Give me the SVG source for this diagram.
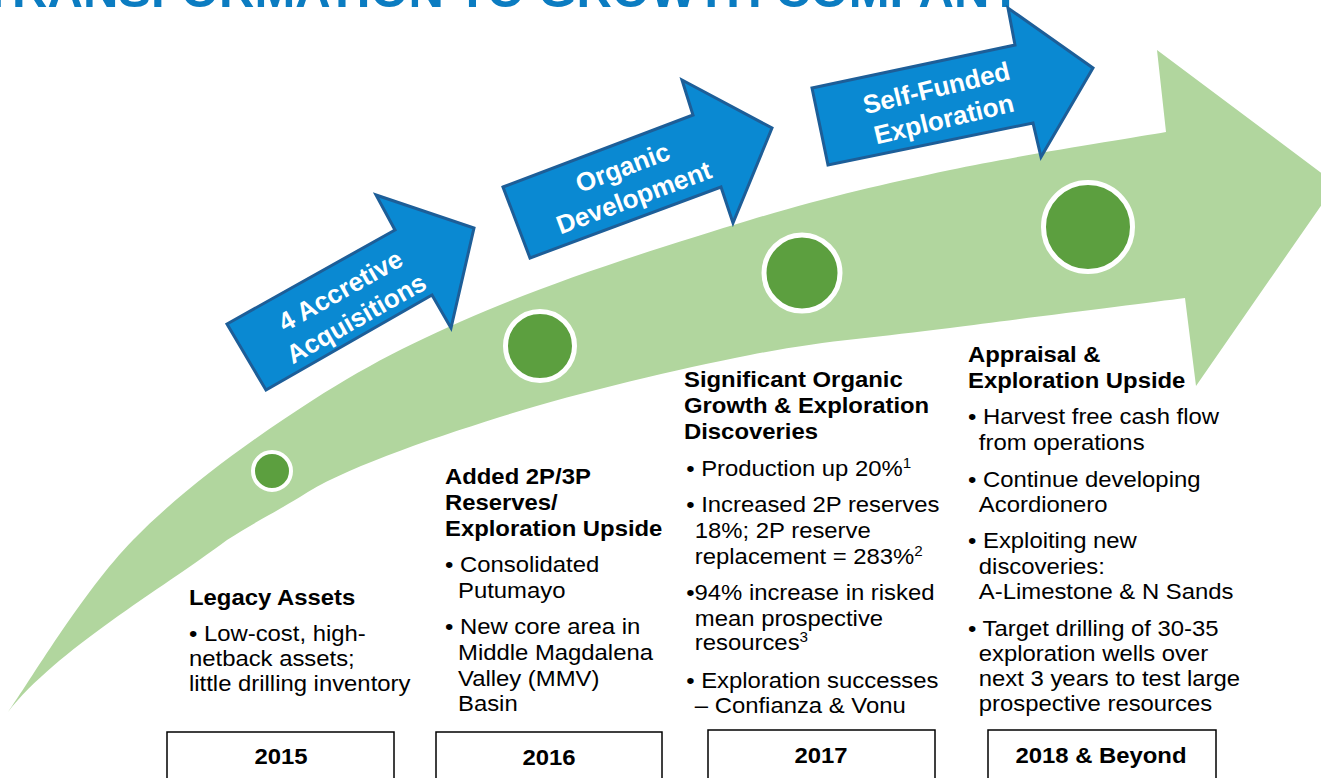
<svg xmlns="http://www.w3.org/2000/svg" width="1321" height="778" viewBox="0 0 1321 778">
<style>
.t{font-family:"Liberation Sans",Arial,sans-serif;font-size:22px;fill:#000}
.b{font-weight:bold}
.at{font-family:"Liberation Sans",Arial,sans-serif;font-size:26px;font-weight:bold;fill:#fff;text-anchor:middle}
.blue{fill:#0a89d2;stroke:#1d5e98;stroke-width:3;stroke-linejoin:miter}
.dot{fill:#5c9f3f;stroke:#fff}
.yr{fill:#fff;stroke:#000;stroke-width:1.5}
.sup{font-size:14px}
</style>
<rect width="1321" height="778" fill="#fff"/>
<text x="1022" y="7" text-anchor="end" font-family="Liberation Sans,Arial,sans-serif" font-weight="bold" font-size="49" fill="#0b7cc1">TRANSFORMATION TO GROWTH COMPANY</text>
<g id="connectors">
<path id="growth-arrow" fill="#b1d69e" d="M8,712 C28.8,683.3 82.2,592 133,540 C183.8,488 251.8,439.2 313,400 C374.2,360.8 427.2,335 500,305 C572.8,275 675,242.5 750,220 C825,197.5 880.7,184.7 950,170 C1019.3,155.3 1130,138.3 1166,132 L1157,50 L1336,184 L1196,386 L1185,298 C1145.8,303 1022.5,318.5 950,328 C877.5,337.5 825,340.2 750,355 C675,369.8 575,393.3 500,417 C425,440.7 340,470 300,497 C270,515 250,525 227,540 C160,590 56.7,650 8,712 Z"/>
</g>
<g id="arrow-acquisitions">
<polygon class="blue" points="227,324 395,230 376,195 474,228 451,328 432,295 266,390"/>
<g transform="translate(348,304) rotate(-29.5)"><text class="at" x="0" y="-6.5">4 Accretive</text><text class="at" x="0" y="25.5">Acquisitions</text></g>
</g>
<g id="arrow-organic">
<polygon class="blue" points="503,187 693,115 682,80 772,128 733,223 721,187 530,258"/>
<g transform="translate(628,182) rotate(-20.5)"><text class="at" x="0" y="-6.5">Organic</text><text class="at" x="0" y="25.5">Development</text></g>
</g>
<g id="arrow-selffunded">
<polygon class="blue" points="812,88 1015,45 1008,8 1093,68 1041,157 1033,123 828,165"/>
<g transform="translate(940,103) rotate(-13.5)"><text class="at" x="0" y="-6.5">Self-Funded</text><text class="at" x="0" y="25.5">Exploration</text></g>
</g>
<g id="dot-2015"><circle class="dot" cx="272" cy="471" r="19" stroke-width="4"/></g>
<g id="dot-2016"><circle class="dot" cx="540" cy="346" r="34.5" stroke-width="5"/></g>
<g id="dot-2017"><circle class="dot" cx="802" cy="273" r="38" stroke-width="5"/></g>
<g id="dot-2018"><circle class="dot" cx="1088" cy="227" r="44.5" stroke-width="5"/></g>
<g id="text-2015" transform="translate(189,0) scale(1.085,1)">
<text class="t b" x="0" y="605">Legacy Assets</text>
<text class="t" x="0" y="641">• Low-cost, high-</text>
<text class="t" x="0" y="666">netback assets;</text>
<text class="t" x="0" y="691">little drilling inventory</text>
</g>
<g id="text-2016" transform="translate(445,0) scale(1.085,1)">
<text class="t b" x="0" y="484">Added 2P/3P</text>
<text class="t b" x="0" y="510">Reserves/</text>
<text class="t b" x="0" y="536">Exploration Upside</text>
<text class="t" x="0" y="572">• Consolidated</text>
<text class="t" x="12" y="598">Putumayo</text>
<text class="t" x="0" y="634">• New core area in</text>
<text class="t" x="12" y="660">Middle Magdalena</text>
<text class="t" x="12" y="686">Valley (MMV)</text>
<text class="t" x="12" y="711">Basin</text>
</g>
<g id="text-2017" transform="translate(684,0) scale(1.085,1)">
<text class="t b" x="0" y="387">Significant Organic</text>
<text class="t b" x="0" y="413">Growth &amp; Exploration</text>
<text class="t b" x="0" y="439">Discoveries</text>
<text class="t" x="2" y="476">• Production up 20%<tspan class="sup" dy="-8">1</tspan></text>
<text class="t" x="2" y="512">• Increased 2P reserves</text>
<text class="t" x="10" y="538">18%; 2P reserve</text>
<text class="t" x="10" y="564">replacement = 283%<tspan class="sup" dy="-8">2</tspan></text>
<text class="t" x="2" y="600">•94% increase in risked</text>
<text class="t" x="10" y="626">mean prospective</text>
<text class="t" x="10" y="650">resources<tspan class="sup" dy="-8">3</tspan></text>
<text class="t" x="2" y="688">• Exploration successes</text>
<text class="t" x="10" y="713">– Confianza &amp; Vonu</text>
</g>
<g id="text-2018" transform="translate(968,0) scale(1.085,1)">
<text class="t b" x="0" y="362">Appraisal &amp;</text>
<text class="t b" x="0" y="388">Exploration Upside</text>
<text class="t" x="0" y="424">• Harvest free cash flow</text>
<text class="t" x="10" y="450">from operations</text>
<text class="t" x="0" y="487">• Continue developing</text>
<text class="t" x="10" y="512">Acordionero</text>
<text class="t" x="0" y="548">• Exploiting new</text>
<text class="t" x="10" y="574">discoveries:</text>
<text class="t" x="10" y="599">A-Limestone &amp; N Sands</text>
<text class="t" x="0" y="636">• Target drilling of 30-35</text>
<text class="t" x="10" y="661">exploration wells over</text>
<text class="t" x="10" y="686">next 3 years to test large</text>
<text class="t" x="10" y="711">prospective resources</text>
</g>
<g id="year-2015"><rect class="yr" x="167" y="732" width="227" height="60"/><text class="t b" transform="translate(281,764) scale(1.085,1)" text-anchor="middle">2015</text></g>
<g id="year-2016"><rect class="yr" x="436" y="732" width="226" height="60"/><text class="t b" transform="translate(549,765) scale(1.085,1)" text-anchor="middle">2016</text></g>
<g id="year-2017"><rect class="yr" x="708" y="730" width="227" height="60"/><text class="t b" transform="translate(821,763) scale(1.085,1)" text-anchor="middle">2017</text></g>
<g id="year-2018"><rect class="yr" x="988" y="730" width="228" height="60"/><text class="t b" transform="translate(1101,763) scale(1.085,1)" text-anchor="middle">2018 &amp; Beyond</text></g>
</svg>
